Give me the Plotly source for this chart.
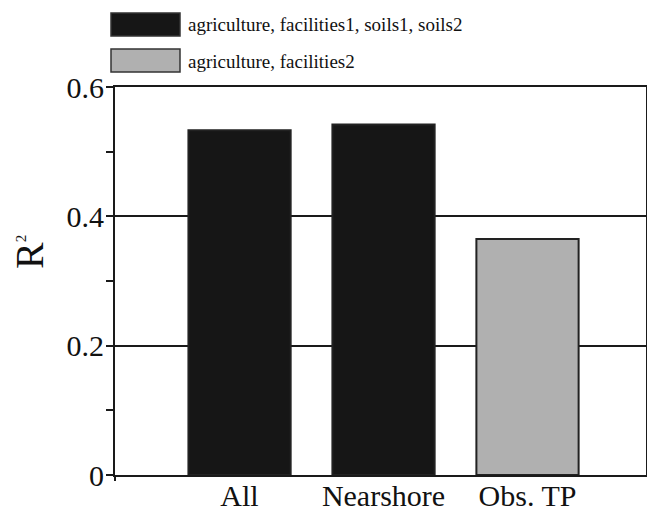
import plotly.graph_objects as go

categories = ["All", "Nearshore", "Obs. TP"]
series_names = ["agriculture, facilities1, soils1, soils2", "agriculture, facilities2"]
black_cats = ["All", "Nearshore"]
black_vals = [0.533, 0.542]
gray_cats = ["Obs. TP"]
gray_vals = [0.365]
ytick_vals = [0, 0.2, 0.4, 0.6]
ytick_text = ["0", "0.2", "0.4", "0.6"]

W, H = 647, 514
ML, MR, MT, MB = 115, 1, 87, 39
PW, PH = W - ML - MR, H - MT - MB
FONT = "Liberation Serif, Times New Roman, serif"
LINE = "#1a1a1a"

def px(x):
    return (x - ML) / PW

def py(y):
    return (H - MB - y) / PH

fig = go.Figure()
fig.add_trace(go.Bar(x=black_cats, y=black_vals, name=series_names[0], width=0.71,
                     marker=dict(color="#161616", line=dict(color="#222222", width=2)),
                     showlegend=False))
fig.add_trace(go.Bar(x=gray_cats, y=gray_vals, name=series_names[1], width=0.71,
                     marker=dict(color="#b0b0b0", line=dict(color="#222222", width=2)),
                     showlegend=False))

# custom legend
colors = ["#161616", "#b0b0b0"]
box_tops = [13, 49]
for name, col, top in zip(series_names, colors, box_tops):
    fig.add_shape(type="rect", xref="paper", yref="paper",
                  x0=px(111), x1=px(180), y0=py(top + 23), y1=py(top),
                  fillcolor=col, line=dict(color="#333333", width=1.5))
    fig.add_annotation(xref="paper", yref="paper", x=px(186), y=py(top + 12),
                       text=name, showarrow=False, xanchor="left", yanchor="middle",
                       font=dict(family=FONT, size=19, color="#111111"))

# y-axis title
fig.add_annotation(xref="paper", yref="paper", x=px(29), y=py(252),
                   text="R<sup><span style='font-size:15px'>2</span></sup>",
                   showarrow=False, textangle=-90,
                   xanchor="center", yanchor="middle",
                   font=dict(family=FONT, size=40, color="#111111"))

# small extension of y axis below zero
fig.add_shape(type="line", xref="paper", yref="paper", x0=0, x1=0,
              y0=py(475), y1=py(481), line=dict(color=LINE, width=2))

fig.update_layout(
    width=W, height=H,
    margin=dict(l=ML, r=MR, t=MT, b=MB, pad=0, autoexpand=False),
    paper_bgcolor="white", plot_bgcolor="white",
    barmode="overlay",
    showlegend=False,
    font=dict(family=FONT, color="#111111"),
    xaxis=dict(categoryorder="array", categoryarray=categories, automargin=False,
               range=[-0.865, 2.823], showline=True, linecolor=LINE, linewidth=2,
               mirror=True, ticks="", showgrid=False, ticklabelstandoff=-7,
               tickfont=dict(family=FONT, size=30, color="#111111")),
    yaxis=dict(range=[0, 0.6], tickvals=ytick_vals, ticktext=ytick_text, automargin=False,
               showline=True, linecolor=LINE, linewidth=2, mirror=True,
               ticks="outside", ticklen=7, tickwidth=2, tickcolor=LINE,
               showgrid=True, gridcolor=LINE, gridwidth=2, zeroline=False,
               ticklabelstandoff=-4,
               minor=dict(tickvals=[0.1, 0.3, 0.5], ticks="outside", ticklen=7,
                          tickwidth=2, tickcolor=LINE, showgrid=False),
               tickfont=dict(family=FONT, size=30, color="#111111")),
)

fig.write_html("out.html")
